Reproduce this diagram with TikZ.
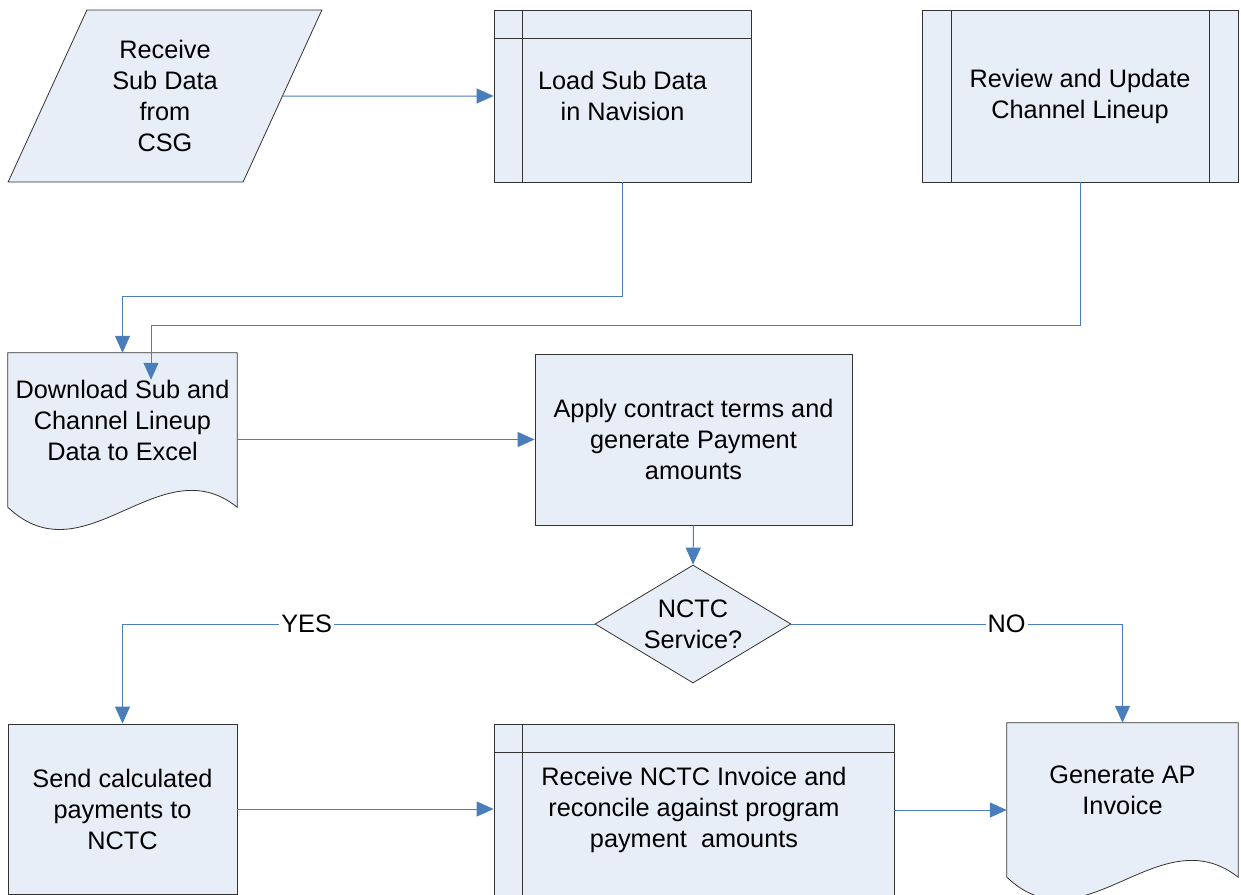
\documentclass[tikz,border=0pt]{standalone}
\usepackage{fontspec}
\setmainfont{Liberation Sans}
\usepackage{tikz}
\usetikzlibrary{arrows.meta, positioning, shapes.geometric, calc}

\definecolor{boxfill}{RGB}{232,238,247}
\definecolor{flowblue}{RGB}{74,126,187}
\pgfdeclarelayer{bg}
\pgfsetlayers{bg,main}
\newcommand{\flowfont}{\fontsize{25.3}{31}\selectfont}
% document shape: box with a wavy bottom edge
\newcommand{\docshape}[1]{%
  \filldraw[docline] (#1.north west) -- (#1.north east) -- ($(#1.south east)+(0,20)$)
    .. controls ($(#1.south west)+(152,-42)$) and ($(#1.south west)+(77,93)$) .. ($(#1.south west)+(0,20)$) -- cycle;}

\begin{document}
\begin{tikzpicture}[x=1pt, y=-1pt,
  box/.style={draw=black!80, fill=boxfill, line width=0.8pt, align=center, inner sep=0pt, font=\flowfont},
  docline/.style={draw=black!80, fill=boxfill, line width=0.8pt},
  io/.style={box, trapezium, trapezium left angle=64.5, trapezium right angle=115.5,
    trapezium stretches=true, minimum width=314pt, minimum height=172pt},
  store/.style={box, path picture={
    \draw[black!80, line width=0.8pt] ([xshift=28pt]path picture bounding box.north west) -- ([xshift=28pt]path picture bounding box.south west);
    \draw[black!80, line width=0.8pt] ([yshift=-28pt]path picture bounding box.north west) -- ([yshift=-28pt]path picture bounding box.north east);}},
  proc/.style={box, path picture={
    \draw[black!80, line width=0.8pt] ([xshift=29pt]path picture bounding box.north west) -- ([xshift=29pt]path picture bounding box.south west);
    \draw[black!80, line width=0.8pt] ([xshift=-29pt]path picture bounding box.north east) -- ([xshift=-29pt]path picture bounding box.south east);}},
  doc/.style={align=center, inner sep=0pt, minimum height=134pt, font=\flowfont},
  dec/.style={box, diamond, minimum width=196pt, minimum height=118pt},
  flow/.style={-{Triangle[length=17pt,width=15pt]}, draw=flowblue, fill=none, line width=1pt},
  lbl/.style={fill=white, inner sep=2pt, font=\flowfont}
]
\useasboundingbox (0,0) rectangle (1241,894);
\clip (0,0) rectangle (1241,894);

% top row
\node[io] (recv) at (165,96) {Receive\\Sub Data\\from\\CSG};
\node[store, minimum width=257pt, minimum height=172pt] (load) at (622.5,96) {Load Sub Data\\in Navision};
\node[proc, minimum width=316pt, minimum height=172pt] (review) at (1080,96) {Review and Update\\Channel Lineup};

% middle row
\node[doc, minimum width=229pt] (dl) at (122.5,420) {Download Sub and\\Channel Lineup\\Data to Excel};
\node[box, minimum width=317pt, minimum height=171pt] (apply) at (693.5,439.5) {Apply contract terms and\\generate Payment\\amounts};
\node[dec, label={[font=\flowfont, align=center]center:{NCTC\\Service?}}] (nctc) at (693,624) {};

% bottom row
\node[box, minimum width=229pt, minimum height=170pt] (send) at (122.5,809) {Send calculated\\payments to\\NCTC};
\node[store, minimum width=400pt, minimum height=172pt] (recvinv) at (694,810) {Receive NCTC Invoice and\\reconcile against program\\payment\ \ amounts};
\node[doc, minimum width=231pt] (ap) at (1122.5,790) {Generate AP\\Invoice};

\begin{pgfonlayer}{bg}
\docshape{dl}
\docshape{ap}
\end{pgfonlayer}

\coordinate (dlin) at ([xshift=28.5pt, yshift=-27pt]dl.north);

\draw[flow] (recv.east) -- (load.west);
\draw[flow] (load.south) -- ++(0,114) -| (dl.north);
\draw[flow] (review.south) -- ++(0,143) -| (dlin);
\draw[flow] (apply.west -| dl.east) -- (apply.west);
\draw[flow] (apply.south) -- (nctc.north);
\draw[flow] (nctc.west) -| node[lbl, pos=0.305] {YES} (send.north);
\draw[flow] (nctc.east) -| node[lbl, pos=0.325] {NO} (ap.north);
\draw[flow] (send.east) -- (send.east -| recvinv.west);
\draw[flow] (recvinv.east) -- (recvinv.east -| ap.west);
\end{tikzpicture}
\end{document}
